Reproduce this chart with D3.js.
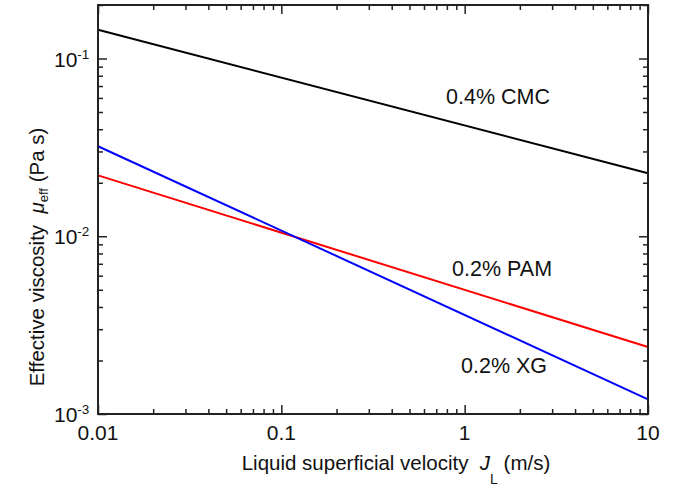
<!DOCTYPE html>
<html>
<head>
<meta charset="utf-8">
<script src="https://cdn.jsdelivr.net/npm/d3@7"></script>
<style>
  body { margin: 0; background: #fff; }
  svg text { font-family: "Liberation Sans", Arial, sans-serif; fill: #111; }
</style>
</head>
<body>
<div id="chart"></div>
<script>
// values (log-log straight lines, end points)
const velocity = [0.01, 10];
const cmc = [0.145, 0.0226];
const pam = [0.022, 0.00238];
const xg = [0.0321, 0.00121];

const seriesNames = ["0.4% CMC", "0.2% PAM", "0.2% XG"];
const seriesColors = ["#000000", "#ff0000", "#0000ff"];
// label anchor (centre, baseline) in data units
const labelAt = [[1.52, 0.0553], [1.60, 0.00598], [1.64, 0.0017]];

const xMajor = [0.01, 0.1, 1, 10];
const xLabels = ["0.01", "0.1", "1", "10"];
const yMajor = [0.001, 0.01, 0.1];
const yExp = ["-3", "-2", "-1"];

const width = 676, height = 487;
const margin = {top: 5, right: 28, bottom: 73, left: 98};

const svg = d3.select("#chart").append("svg")
  .attr("width", width)
  .attr("height", height);

const x = d3.scaleLog()
  .domain([0.01, 10])
  .range([margin.left, width - margin.right]);
const y = d3.scaleLog()
  .domain([0.001, 0.2])
  .range([height - margin.bottom, margin.top]);

// minor ticks 2..9 in every decade
const minorOf = (lo, hi) => {
  const out = [];
  for (let e = lo; e < hi; e++) {
    for (let m = 2; m <= 9; m++) out.push(m * Math.pow(10, e));
  }
  return out;
};
const xMinor = minorOf(-2, 1);
const yMinor = minorOf(-3, 0).filter(v => v <= 0.2);

function tickAxis(axisFn, scale, values, size, tx, ty) {
  const g = svg.append("g")
    .attr("transform", `translate(${tx},${ty})`)
    .call(axisFn(scale).tickValues(values).tickSize(-size).tickFormat(""));
  g.select(".domain").remove();
  g.selectAll(".tick line").attr("stroke", "#222").attr("stroke-width", 1.5);
  return g;
}

const x0 = margin.left, x1 = width - margin.right;
const y0 = height - margin.bottom, y1 = margin.top;

tickAxis(d3.axisBottom, x, xMajor, 9, 0, y0);
tickAxis(d3.axisBottom, x, xMinor, 5, 0, y0);
tickAxis(d3.axisTop, x, xMajor, 9, 0, y1);
tickAxis(d3.axisTop, x, xMinor, 5, 0, y1);
tickAxis(d3.axisLeft, y, yMajor, 9, x0, 0);
tickAxis(d3.axisLeft, y, yMinor, 5, x0, 0);
tickAxis(d3.axisRight, y, yMajor, 9, x1, 0);
tickAxis(d3.axisRight, y, yMinor, 5, x1, 0);

// lines
const line = d3.line()
  .x(d => x(d[0]))
  .y(d => y(d[1]));

[cmc, pam, xg].forEach((s, i) => {
  svg.append("path")
    .datum(velocity.map((v, j) => [v, s[j]]))
    .attr("fill", "none")
    .attr("stroke", seriesColors[i])
    .attr("stroke-width", 2)
    .attr("d", line);
});

// frame
svg.append("rect")
  .attr("x", x0).attr("y", y1)
  .attr("width", x1 - x0).attr("height", y0 - y1)
  .attr("fill", "none")
  .attr("stroke", "#222")
  .attr("stroke-width", 2);

// x tick labels
svg.append("g").selectAll("text")
  .data(xMajor)
  .join("text")
  .attr("x", d => x(d))
  .attr("y", y0 + 26)
  .attr("text-anchor", "middle")
  .style("font-size", "21px")
  .text((d, i) => xLabels[i]);

// y tick labels 10^n
const yl = svg.append("g").selectAll("text")
  .data(yMajor)
  .join("text")
  .attr("x", x0 - 44)
  .attr("y", d => y(d) + 8)
  .style("font-size", "21px");
yl.append("tspan").text("10");
yl.append("tspan")
  .attr("dy", -8)
  .style("font-size", "13.5px")
  .text((d, i) => yExp[i]);

// series labels
svg.append("g").selectAll("text")
  .data(seriesNames)
  .join("text")
  .attr("x", (d, i) => x(labelAt[i][0]))
  .attr("y", (d, i) => y(labelAt[i][1]))
  .attr("text-anchor", "middle")
  .style("font-size", "21.5px")
  .text(d => d);

// x title
const xt = svg.append("text")
  .attr("x", 396)
  .attr("y", 470)
  .attr("text-anchor", "middle")
  .style("font-size", "20.5px");
xt.append("tspan").text("Liquid superficial velocity\u00a0\u00a0");
xt.append("tspan").style("font-style", "italic").text("J");
xt.append("tspan").attr("dy", 14).style("font-size", "14px").text("L");
xt.append("tspan").attr("dy", -14).text("\u00a0(m/s)");

// y title
const yt = svg.append("text")
  .attr("transform", "translate(43.5,257) rotate(-90)")
  .attr("text-anchor", "middle")
  .style("font-size", "20.5px");
yt.append("tspan").text("Effective viscosity\u00a0\u00a0");
yt.append("tspan").style("font-style", "italic").text("\u03bc");
yt.append("tspan").attr("dy", 4).style("font-size", "13px").text("eff");
yt.append("tspan").attr("dy", -4).text("\u00a0(Pa s)");
</script>
</body>
</html>
